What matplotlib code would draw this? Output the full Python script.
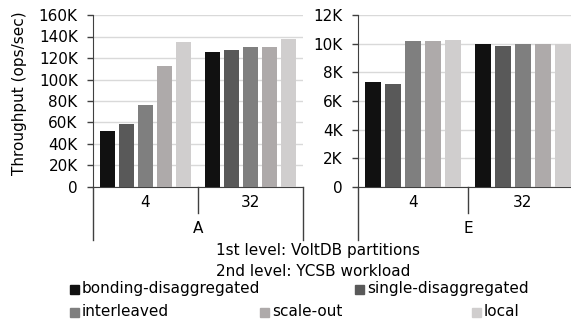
import matplotlib
matplotlib.use("Agg")
import matplotlib.pyplot as plt
import numpy as np

series = ["bonding-disaggregated", "single-disaggregated", "interleaved", "scale-out", "local"]
colors = ["#111111", "#595959", "#7f7f7f", "#aeaaaa", "#d0cece"]
partitions = ["4", "32"]

# workload A (ops/sec), rows = partitions 4, 32
vals_a = {
    "bonding-disaggregated": [52200, 125200],
    "single-disaggregated": [59000, 127600],
    "interleaved": [76400, 130400],
    "scale-out": [112400, 130100],
    "local": [134500, 137600],
}
# workload E
vals_e = {
    "bonding-disaggregated": [7320, 9950],
    "single-disaggregated": [7180, 9840],
    "interleaved": [10210, 10000],
    "scale-out": [10190, 10000],
    "local": [10230, 9950],
}

W, H = 571, 321
fig = plt.figure(figsize=(W / 100, H / 100), dpi=100)
plt.rcParams["font.family"] = "DejaVu Sans"
FS = 11
axis_col = "#404040"


def fx(px):
    return px / W


def fy(py):
    return 1 - py / H


def draw_panel(ax, vals, ymax, step, ticks_fmt, workload):
    x = np.arange(len(partitions))
    pitch, bw = 0.181, 0.143
    for i, s in enumerate(series):
        off = (i - 2) * pitch
        ax.bar(x + off, vals[s], width=bw, color=colors[i], zorder=3)
    ax.set_xlim(-0.5, 1.5)
    ax.set_ylim(0, ymax)
    yt = np.arange(0, ymax + 1, step)
    ax.set_yticks(yt)
    ax.set_yticklabels([ticks_fmt(v) for v in yt], fontsize=FS)
    ax.yaxis.grid(True, color="#d9d9d9", linewidth=1, zorder=0)
    ax.set_xticks([])
    for sp in ["top", "right"]:
        ax.spines[sp].set_visible(False)
    ax.spines["left"].set_color(axis_col)
    ax.spines["bottom"].set_color(axis_col)
    ax.tick_params(axis="y", length=4, width=1, color=axis_col, pad=7)
    tr = ax.get_xaxis_transform()
    # category separators below the axis
    for xs, yb in [(-0.5, -0.308), (0.5, -0.151), (1.5, -0.308)]:
        ax.plot([xs, xs], [0, yb], transform=tr, color=axis_col, lw=1, clip_on=False)
    for xi, lab in zip(x, partitions):
        ax.text(xi, -0.093, lab, transform=tr, ha="center", va="center", fontsize=FS)
    ax.text(0.5, -0.244, workload, transform=tr, ha="center", va="center", fontsize=FS)


ax1 = fig.add_axes([fx(93), fy(187), fx(210), (187 - 15) / H])
draw_panel(ax1, vals_a, 160000, 20000, lambda v: "0" if v == 0 else f"{int(v / 1000)}K", "A")

ax2 = fig.add_axes([fx(358), fy(187), fx(220), (187 - 15) / H])
draw_panel(ax2, vals_e, 12000, 2000, lambda v: "0" if v == 0 else f"{int(v / 1000)}K", "E")

fig.text(fx(20), fy(93), "Throughput (ops/sec)", rotation=90, ha="center", va="center", fontsize=FS)

fig.text(fx(216), fy(251), "1st level: VoltDB partitions", ha="left", va="center", fontsize=FS)
fig.text(fx(216), fy(271), "2nd level: YCSB workload", ha="left", va="center", fontsize=FS)

# legend laid out like the original (marker x, row y)
legend_pos = [(70, 289), (355, 289), (70, 312), (260, 312), (472, 312)]
for (mx, my), s, c in zip(legend_pos, series, colors):
    fig.patches.append(plt.Rectangle((fx(mx), fy(my + 4.5)), fx(9), 9 / H,
                                     transform=fig.transFigure, color=c))
    fig.text(fx(mx + 12), fy(my), s, ha="left", va="center", fontsize=FS)

fig.savefig("out.png", dpi=100)
